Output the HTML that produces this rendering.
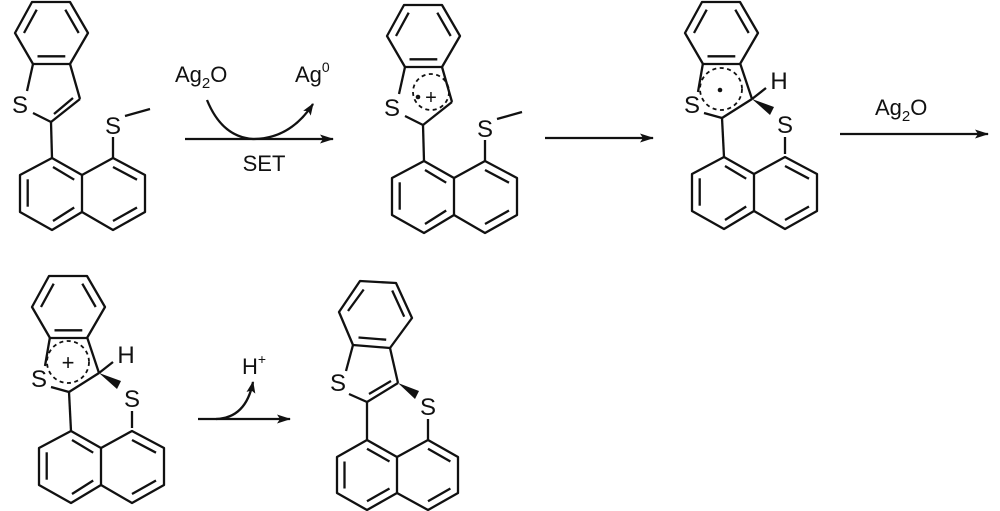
<!DOCTYPE html>
<html><head><meta charset="utf-8"><style>
html,body{margin:0;padding:0;background:#fff;}
svg{display:block;}
text{font-family:"Liberation Sans",Arial,sans-serif;fill:#111;}
</style></head><body>
<svg width="1000" height="511" viewBox="0 0 1000 511" xmlns="http://www.w3.org/2000/svg">
<defs>
<g id="benz" stroke="#111" stroke-width="2.3" fill="none" stroke-linejoin="round">
<polygon points="32,2 70,2 88,33 70,64 33,64 15,33"/>
<line x1="24" y1="33" x2="36.7" y2="9.7"/>
<line x1="65.3" y1="9.7" x2="78.7" y2="33"/>
<line x1="37.5" y1="56.3" x2="65.3" y2="56.3"/>
</g>
<g id="naph" stroke="#111" stroke-width="2.3" fill="none" stroke-linejoin="round">
<polygon points="52,158 20,175 20,212 52,230 82,212 82,175"/>
<polyline points="82,175 113,158 145,175 145,212 113,230 82,212"/>
<line x1="27.7" y1="179.3" x2="27.7" y2="206.7"/>
<line x1="53" y1="167" x2="74.2" y2="179.7"/>
<line x1="53" y1="221" x2="74.2" y2="207.5"/>
<line x1="113" y1="167" x2="137" y2="179.7"/>
<line x1="113" y1="221" x2="137" y2="207.5"/>
</g>
<marker id="ah" viewBox="0 0 14 10" refX="13" refY="5" markerWidth="14" markerHeight="10" markerUnits="userSpaceOnUse" orient="auto"><path d="M0,0.5 L14,5 L0,9.5 L3,5 Z" fill="#111"/></marker>
<marker id="ah2" viewBox="0 0 12 10" refX="11" refY="5" markerWidth="12" markerHeight="10" markerUnits="userSpaceOnUse" orient="auto"><path d="M0,0.5 L12,5 L0,9.5 L2.5,5 Z" fill="#111"/></marker>
</defs>

<!-- Molecule 1 -->
<use href="#benz"/>
<use href="#naph"/>
<g stroke="#111" stroke-width="2.3" fill="none">
<line x1="33" y1="64" x2="27" y2="91"/>
<line x1="33" y1="113" x2="51" y2="122"/>
<line x1="51" y1="122" x2="80" y2="99"/>
<line x1="54" y1="114" x2="73" y2="98"/>
<line x1="80" y1="99" x2="70" y2="64"/>
<line x1="51" y1="122" x2="52" y2="158"/>
<line x1="113" y1="158" x2="113" y2="137"/>
<line x1="125" y1="116" x2="150" y2="109"/>
</g>
<text x="20" y="113" font-size="24" text-anchor="middle">S</text>
<text x="113" y="134" font-size="24" text-anchor="middle">S</text>

<!-- Arrow 1 -->
<text x="175" y="82" font-size="22">Ag<tspan font-size="15" dy="6">2</tspan><tspan dy="-6">O</tspan></text>
<text x="295" y="82" font-size="22">Ag<tspan font-size="14" dy="-10">0</tspan></text>
<g stroke="#111" stroke-width="2.3" fill="none">
<line x1="185" y1="139" x2="333" y2="139" marker-end="url(#ah)"/>
<path d="M207,100 Q222,137 253,139 Q290,139 313,104" marker-end="url(#ah2)"/>
</g>
<text x="264" y="171" font-size="22" text-anchor="middle">SET</text>

<!-- Molecule 2 -->
<g transform="translate(372,3)">
<use href="#benz"/>
<use href="#naph"/>
<g stroke="#111" stroke-width="2.3" fill="none">
<line x1="33" y1="64" x2="27" y2="91"/>
<line x1="33" y1="113" x2="51" y2="122"/>
<line x1="51" y1="122" x2="80" y2="99"/>
<line x1="80" y1="99" x2="70" y2="64"/>
<line x1="51" y1="122" x2="52" y2="158"/>
<line x1="113" y1="158" x2="113" y2="137"/>
<line x1="125" y1="116" x2="150" y2="109"/>
<circle cx="59" cy="89" r="18" stroke-dasharray="4,3.5" stroke-width="1.8"/>
</g>
<circle cx="46" cy="94" r="2.3" fill="#111"/>
<text x="59" y="101" font-size="20" text-anchor="middle">+</text>
<text x="20" y="113" font-size="24" text-anchor="middle">S</text>
<text x="113" y="134" font-size="24" text-anchor="middle">S</text>
</g>

<!-- Arrow 2 -->
<line x1="545" y1="138" x2="653" y2="138" stroke="#111" stroke-width="2.3" marker-end="url(#ah)"/>

<!-- Molecule 3 -->
<use href="#benz" transform="translate(670,0)"/>
<use href="#naph" transform="translate(672,-1)"/>
<g stroke="#111" stroke-width="2.3" fill="none">
<line x1="703" y1="63" x2="698" y2="92"/>
<line x1="704" y1="113" x2="722" y2="118"/>
<line x1="722" y1="118" x2="752" y2="99"/>
<line x1="752" y1="99" x2="740" y2="63"/>
<line x1="752" y1="99" x2="766" y2="88"/>
<line x1="722" y1="118" x2="724" y2="157"/>
<line x1="785" y1="154" x2="785" y2="137"/>
<circle cx="721" cy="89" r="21" stroke-dasharray="4,3.5" stroke-width="1.8"/>
</g>
<polygon points="752,99 774,107 770,115" fill="#111"/>
<circle cx="720" cy="90" r="2.3" fill="#111"/>
<text x="692" y="113" font-size="24" text-anchor="middle">S</text>
<text x="785" y="133" font-size="24" text-anchor="middle">S</text>
<text x="779" y="89" font-size="24" text-anchor="middle">H</text>

<!-- Arrow 3 -->
<text x="875" y="115" font-size="22">Ag<tspan font-size="15" dy="6">2</tspan><tspan dy="-6">O</tspan></text>
<line x1="840" y1="134" x2="988" y2="134" stroke="#111" stroke-width="2.3" marker-end="url(#ah)"/>

<!-- Molecule 4 -->
<g transform="translate(-653,274)">
<use href="#benz" transform="translate(670,0)"/>
<use href="#naph" transform="translate(672,-1)"/>
<g stroke="#111" stroke-width="2.3" fill="none">
<line x1="703" y1="63" x2="698" y2="92"/>
<line x1="704" y1="113" x2="722" y2="118"/>
<line x1="722" y1="118" x2="752" y2="99"/>
<line x1="752" y1="99" x2="740" y2="63"/>
<line x1="752" y1="99" x2="766" y2="88"/>
<line x1="722" y1="118" x2="724" y2="157"/>
<line x1="785" y1="154" x2="785" y2="137"/>
<circle cx="721" cy="88" r="21" stroke-dasharray="4,3.5" stroke-width="1.8"/>
</g>
<polygon points="752,99 774,107 770,115" fill="#111"/>
<text x="721" y="96" font-size="22" text-anchor="middle">+</text>
<text x="692" y="113" font-size="24" text-anchor="middle">S</text>
<text x="785" y="133" font-size="24" text-anchor="middle">S</text>
<text x="779" y="89" font-size="24" text-anchor="middle">H</text>
</g>

<!-- Arrow 4 -->
<text x="242" y="374" font-size="22">H<tspan font-size="14" dy="-10">+</tspan></text>
<g stroke="#111" stroke-width="2.3" fill="none">
<line x1="198" y1="419" x2="290" y2="419" marker-end="url(#ah)"/>
<path d="M216,419 Q246,418 253,382" marker-end="url(#ah2)"/>
</g>

<!-- Molecule 5 -->
<g stroke="#111" stroke-width="2.3" fill="none" stroke-linejoin="round">
<polygon points="360,281 396,283 412,318 390,348 353,345 339,312"/>
<line x1="348" y1="311" x2="363.7" y2="289.5"/>
<line x1="392.2" y1="290.5" x2="404.2" y2="316.7"/>
<line x1="358.5" y1="337.5" x2="386.2" y2="339.7"/>
<line x1="353" y1="345" x2="346" y2="371"/>
<line x1="349" y1="394" x2="367" y2="402"/>
<line x1="367" y1="402" x2="398" y2="383"/>
<line x1="369" y1="394" x2="391" y2="381"/>
<line x1="398" y1="383" x2="390" y2="348"/>
<line x1="367" y1="402" x2="367" y2="440"/>
<line x1="428" y1="419" x2="428" y2="440"/>
<polygon points="367,440 337,457 337,493 367,510 397,493 397,457"/>
<polyline points="397,457 428,440 458,457 458,493 428,510 397,493"/>
<line x1="344.5" y1="461.5" x2="344.5" y2="488.5"/>
<line x1="367" y1="448.7" x2="389.5" y2="461.5"/>
<line x1="367" y1="501.2" x2="389.5" y2="488.5"/>
<line x1="428" y1="448.7" x2="450.4" y2="461.5"/>
<line x1="428" y1="501.2" x2="450.4" y2="488.5"/>
</g>
<polygon points="398,383 419,391 415,399" fill="#111"/>
<text x="338" y="391" font-size="24" text-anchor="middle">S</text>
<text x="428" y="415" font-size="24" text-anchor="middle">S</text>
</svg>
</body></html>
